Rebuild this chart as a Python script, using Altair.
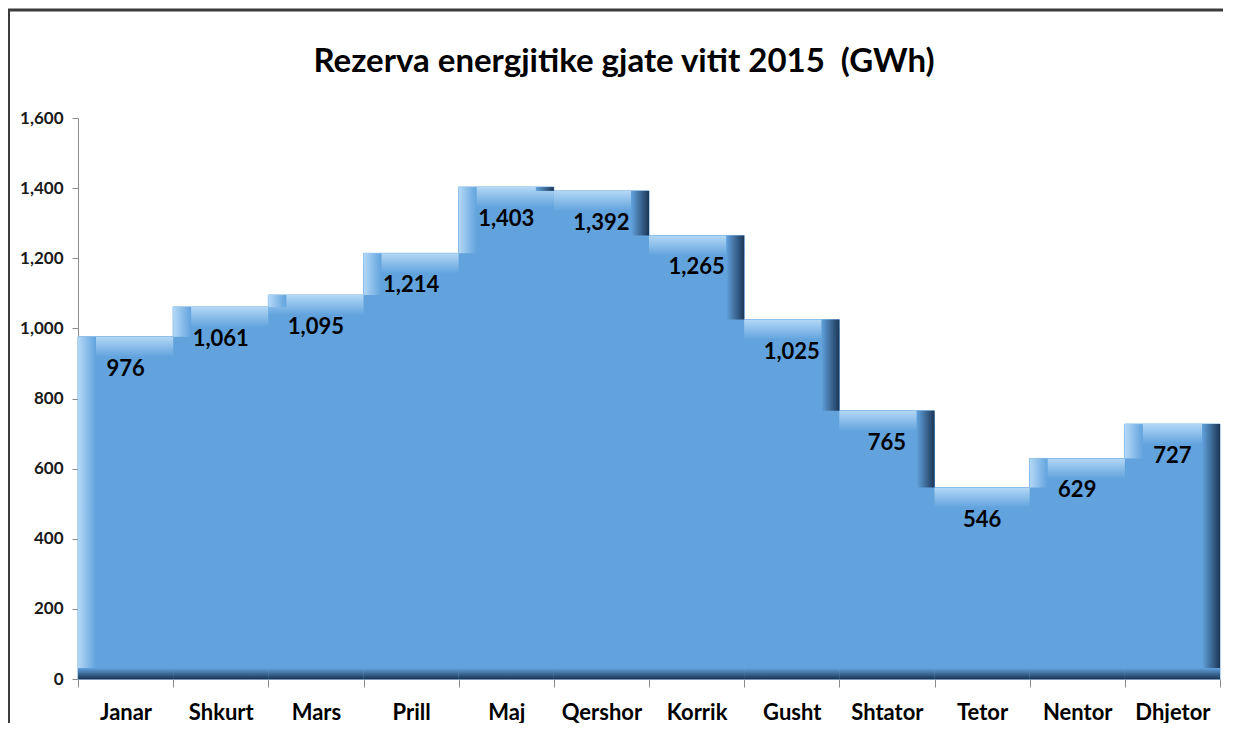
import altair as alt
import pandas as pd

months = ["Janar", "Shkurt", "Mars", "Prill", "Maj", "Qershor", "Korrik",
          "Gusht", "Shtator", "Tetor", "Nentor", "Dhjetor"]
values = [976, 1061, 1095, 1214, 1403, 1392, 1265, 1025, 765, 546, 629, 727]
y_ticks = [0, 200, 400, 600, 800, 1000, 1200, 1400, 1600]
title_text = "Rezerva energjitike gjate vitit 2015\u00a0 (GWh)"

FONT = "Lato"
BASE = "#62A3DE"
LIGHT = "#B3D8F6"
DARK = "#1C3656"

df = pd.DataFrame({"month": months, "value": values})
df["start"] = range(len(months))
df["end"] = df["start"] + 1
df["prev"] = df["value"].shift(1).fillna(0)
df["next"] = df["value"].shift(-1).fillna(0)
df["label"] = df["value"].map(lambda v: f"{v:,}")

W, H = 1142, 561
half_band = W / len(months) / 2

label_expr = "[" + ",".join(f"'{m}'" for m in months) + ",''][datum.value]"

x_scale = alt.Scale(domain=[0, len(months)], nice=False, zero=False)
y_scale = alt.Scale(domain=[0, 1600], nice=False)

x_axis = alt.Axis(values=list(range(len(months) + 1)), labelExpr=label_expr,
                  labelOffset=half_band, labelAlign="center", labelFlush=False,
                  labelOverlap=False, labelBound=False, title=None, grid=False,
                  tickSize=8, tickColor="#8c8c8c", domainColor="#8c8c8c",
                  labelFont=FONT, labelFontSize=22, labelFontWeight="bold",
                  labelColor="#000000", labelPadding=15)
y_axis = alt.Axis(values=y_ticks, labelExpr="format(datum.value, ',')", title=None,
                  grid=False, tickSize=6, tickColor="#8c8c8c", domainColor="#8c8c8c",
                  labelFont=FONT, labelFontSize=17, labelFontWeight="bold",
                  labelColor="#1a1a1a", labelPadding=9)

def grad(c1, c2, horizontal):
    return alt.LinearGradient(
        gradient="linear",
        stops=[alt.GradientStop(color=c1, offset=0), alt.GradientStop(color=c2, offset=1)],
        x1=0, y1=0, x2=1 if horizontal else 0, y2=0 if horizontal else 1)

base = alt.Chart(df)

bars = base.mark_bar(color=BASE, stroke=BASE, strokeWidth=1).encode(
    x=alt.X("start:Q", scale=x_scale, axis=x_axis),
    x2="end:Q",
    y=alt.Y("value:Q", scale=y_scale, axis=y_axis),
    y2=alt.datum(0),
)

top = base.mark_bar(color=grad(LIGHT, BASE, False), y2Offset=20).encode(
    x="start:Q", x2="end:Q", y="value:Q", y2="value:Q")

left = base.transform_filter("datum.value > datum.prev").mark_bar(
    color=grad(LIGHT, BASE, True), x2Offset=18).encode(
    x="start:Q", x2="start:Q", y="value:Q", y2="prev:Q")

right = base.transform_filter("datum.value > datum.next").mark_bar(
    color=grad(BASE, DARK, True), xOffset=-18).encode(
    x="end:Q", x2="end:Q", y="value:Q", y2="next:Q")

bottom = base.mark_bar(color=grad(BASE, DARK, False), yOffset=-11).encode(
    x="start:Q", x2="end:Q", y=alt.datum(0), y2=alt.datum(0))

labels = base.mark_text(font=FONT, fontSize=22, fontWeight="bold", color="#000000",
                        baseline="middle", dy=32).encode(
    x=alt.X("mid:Q"), y="value:Q", text="label:N").transform_calculate(
    mid="datum.start + 0.5")

title_df = pd.DataFrame({"t": [title_text]})
title = alt.Chart(title_df).mark_text(font=FONT, fontSize=33, fontWeight="bold",
                                      color="#000000", align="center",
                                      baseline="alphabetic").encode(
    x=alt.value(546), y=alt.value(-46), text="t:N")

frame_left = alt.Chart(title_df).mark_rule(color="#3c3c3c", strokeWidth=2).encode(
    x=alt.value(-69), y=alt.value(-109), y2=alt.value(H + 60))
frame_top = alt.Chart(title_df).mark_rule(color="#3c3c3c", strokeWidth=3).encode(
    x=alt.value(-70), x2=alt.value(W + 3), y=alt.value(-108))

chart = alt.layer(bars, top, left, right, bottom, labels, title, frame_left, frame_top).properties(
    width=W, height=H,
    autosize=alt.AutoSizeParams(type="none"),
    padding={"left": 70, "top": 110, "right": 3, "bottom": 44},
).configure_view(stroke=None)

chart.save("out.html", embed_options={"renderer": "svg", "actions": False})
